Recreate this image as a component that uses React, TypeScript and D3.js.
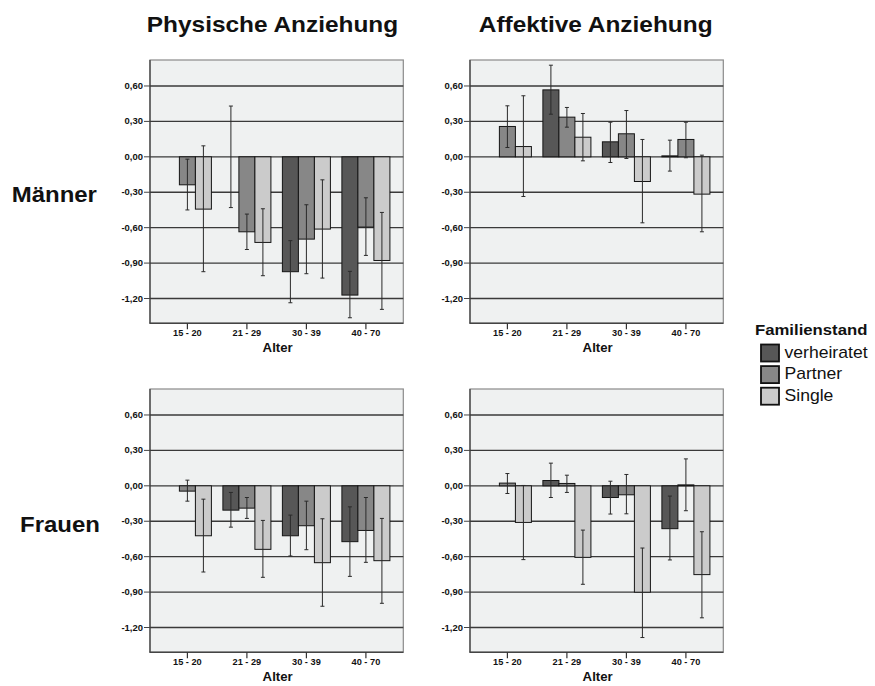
import React from "react";
import * as d3 from "d3";

const categories = ["15 - 20", "21 - 29", "30 - 39", "40 - 70"];
const seriesNames = ["verheiratet", "Partner", "Single"];
const yTicks = [0.6, 0.3, 0, -0.3, -0.6, -0.9, -1.2];
const columnTitles = ["Physische Anziehung", "Affektive Anziehung"];
const rowTitles = ["Männer", "Frauen"];

// [series][category]  series: verheiratet, Partner, Single
const physMaenMean = [[null, 0.0, -0.973, -1.171], [-0.237, -0.635, -0.697, -0.595], [-0.443, -0.725, -0.612, -0.878]];
const physMaenLow = [[null, -0.43, -1.236, -1.363], [-0.45, -0.785, -0.99, -0.835], [-0.973, -1.007, -1.027, -1.292]];
const physMaenHigh = [[null, 0.43, -0.71, -0.97], [-0.02, -0.485, -0.406, -0.347], [0.093, -0.44, -0.195, -0.471]];

const affMaenMean = [[null, 0.567, 0.127, 0.008], [0.257, 0.336, 0.195, 0.147], [0.087, 0.166, -0.209, -0.316]];
const affMaenLow = [[null, 0.361, -0.048, -0.121], [0.079, 0.251, -0.014, -0.008], [-0.336, -0.034, -0.559, -0.635]];
const affMaenHigh = [[null, 0.776, 0.293, 0.141], [0.432, 0.418, 0.392, 0.293], [0.517, 0.367, 0.147, 0.014]];

const physFrauMean = [[null, -0.206, -0.423, -0.473], [-0.045, -0.189, -0.338, -0.378], [-0.423, -0.538, -0.651, -0.634]];
const physFrauLow = [[null, -0.35, -0.594, -0.767], [-0.13, -0.276, -0.541, -0.648], [-0.73, -0.775, -1.02, -0.995]];
const physFrauHigh = [[null, -0.056, -0.248, -0.178], [0.048, -0.099, -0.13, -0.099], [-0.113, -0.293, -0.279, -0.276]];

const affFrauMean = [[null, 0.045, -0.099, -0.363], [0.023, 0.02, -0.076, 0.008], [-0.31, -0.606, -0.901, -0.752]];
const affFrauLow = [[null, -0.099, -0.239, -0.628], [-0.065, -0.056, -0.237, -0.211], [-0.625, -0.834, -1.285, -1.118]];
const affFrauHigh = [[null, 0.192, 0.039, -0.087], [0.104, 0.09, 0.096, 0.228], [0.003, -0.375, -0.527, -0.389]];

const fills = ["#575757", "#878787", "#cbcbcb"];
const FONT = "'Liberation Sans', Arial, Helvetica, sans-serif";
const SX = 1.1;

type Num = number | null;

function SText({ x, y, size, anchor = "start", bold = false, children }: any) {
  return (
    <text
      transform={`translate(${x},${y}) scale(${SX},1)`}
      textAnchor={anchor}
      fontFamily={FONT}
      fontSize={size}
      fontWeight={bold ? "bold" : "normal"}
      fill="#111"
    >
      {children}
    </text>
  );
}

function Panel({ x0, y0, mean, low, high }: { x0: number; y0: number; mean: Num[][]; low: Num[][]; high: Num[][] }) {
  const W = 253.3;
  const H = 263.3;
  const x1 = x0 + W;
  const y1 = y0 + H;
  const y = d3.scaleLinear().domain([-1.41, 0.82]).range([y1, y0]);
  const xb = d3.scaleBand<string>().domain(categories).range([x0, x1]).paddingInner(0.193).paddingOuter(0.225);
  const xs = d3.scaleBand<string>().domain(seriesNames).range([0, xb.bandwidth()]).padding(0);
  const fmt = (v: number) => v.toFixed(2).replace(".", ",");
  return (
    <g>
      <rect x={x0} y={y0} width={W} height={H} fill="#eff1f1" stroke="#8a8a8a" strokeWidth={1.2} />
      <line x1={x0} x2={x0} y1={y0} y2={y1} stroke="#555" strokeWidth={1.5} />
      {yTicks.map((t) => (
        <g key={t}>
          <line x1={x0} x2={x1} y1={y(t)} y2={y(t)} stroke="#3a3a3a" strokeWidth={1.3} />
          <line x1={x0 - 6} x2={x0} y1={y(t)} y2={y(t)} stroke="#444" strokeWidth={1} />
          <SText x={x0 - 7} y={y(t) + 3} size={8.6} anchor="end" bold>
            {fmt(t)}
          </SText>
        </g>
      ))}
      {categories.map((c, ci) => (
        <g key={c}>
          {seriesNames.map((s, si) => {
            const v = mean[si][ci];
            if (v === null) return null;
            const bx = (xb(c) as number) + (xs(s) as number);
            const bw = xs.bandwidth();
            const top = Math.min(y(v), y(0));
            const h = Math.abs(y(v) - y(0));
            return (
              <rect key={s} x={bx} y={top} width={bw} height={h} fill={fills[si]} stroke="#151515" strokeWidth={1} />
            );
          })}
        </g>
      ))}
      {categories.map((c, ci) => (
        <g key={c + "e"}>
          {seriesNames.map((s, si) => {
            const lo = low[si][ci];
            const hi = high[si][ci];
            if (lo === null || hi === null) return null;
            const cx = (xb(c) as number) + (xs(s) as number) + xs.bandwidth() / 2;
            return (
              <g key={s} stroke="#2a2a2a" strokeWidth={1}>
                <line x1={cx} x2={cx} y1={y(hi)} y2={y(lo)} />
                <line x1={cx - 2} x2={cx + 2} y1={y(hi)} y2={y(hi)} />
                <line x1={cx - 2} x2={cx + 2} y1={y(lo)} y2={y(lo)} />
              </g>
            );
          })}
        </g>
      ))}
      <line x1={x0 - 0.5} x2={x1} y1={y1} y2={y1} stroke="#444" strokeWidth={1.6} />
      {categories.map((c) => {
        const cx = (xb(c) as number) + xb.bandwidth() / 2;
        return (
          <g key={c + "t"}>
            <line x1={cx} x2={cx} y1={y1} y2={y1 + 6} stroke="#333" strokeWidth={1.2} />
            <SText x={cx} y={y1 + 13} size={8.4} anchor="middle" bold>
              {c}
            </SText>
          </g>
        );
      })}
      <SText x={x0 + W / 2 + 1} y={y1 + 28.5} size={12} anchor="middle" bold>
        Alter
      </SText>
    </g>
  );
}

export default function App() {
  const panels = [
    { x0: 150, y0: 60, mean: physMaenMean, low: physMaenLow, high: physMaenHigh },
    { x0: 470, y0: 60, mean: affMaenMean, low: affMaenLow, high: affMaenHigh },
    { x0: 150, y0: 389, mean: physFrauMean, low: physFrauLow, high: physFrauHigh },
    { x0: 470, y0: 389, mean: affFrauMean, low: affFrauLow, high: affFrauHigh },
  ];
  return (
    <svg
      width={875}
      height={686}
      viewBox="0 0 875 686"
      style={{ position: "absolute", left: 0, top: 0, background: "#fff" }}
    >
      <rect x={0} y={0} width={875} height={686} fill="#fff" />
      <SText x={272.5} y={31.7} size={22.2} anchor="middle" bold>
        {columnTitles[0]}
      </SText>
      <SText x={595.7} y={31.7} size={22.2} anchor="middle" bold>
        {columnTitles[1]}
      </SText>
      <SText x={11.7} y={201.7} size={21.8} bold>
        {rowTitles[0]}
      </SText>
      <SText x={20} y={531.7} size={21.8} bold>
        {rowTitles[1]}
      </SText>
      {panels.map((p, i) => (
        <Panel key={i} {...p} />
      ))}
      <g>
        <SText x={755} y={335} size={15.2} bold>
          Familienstand
        </SText>
        {seriesNames.map((s, i) => (
          <g key={s}>
            <rect x={761} y={344.5 + i * 21.6} width={18} height={17} fill={fills[i]} stroke="#111" strokeWidth={1.8} />
            <SText x={784.5} y={357.5 + i * 21.6} size={16} >
              {s}
            </SText>
          </g>
        ))}
      </g>
    </svg>
  );
}
